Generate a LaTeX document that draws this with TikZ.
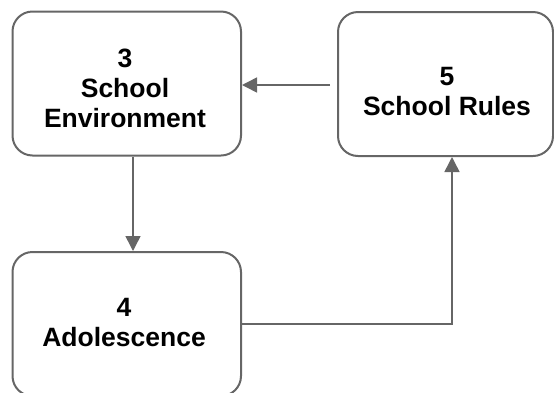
\documentclass[tikz,border=0pt]{standalone}
\usepackage{fontspec}
\setmainfont{Liberation Sans}
\usetikzlibrary{arrows.meta}
\definecolor{edge}{HTML}{666666}
\tikzset{
  box/.style={draw=edge, line width=2pt, rounded corners=20pt, fill=white, inner sep=0pt},
  lbl/.style={align=center, font=\fontsize{26.5}{30}\selectfont\bfseries, inner sep=0pt},
  conn/.style={draw=edge, line width=1.5pt, -{Triangle[length=15pt,width=15pt]}}
}
\begin{document}
\begin{tikzpicture}[x=1pt,y=-1pt]
\useasboundingbox (0,0) rectangle (554,392);
\node[box, minimum width=228.5pt, minimum height=144pt] (s3) at (126.75,83.5) {};
\node[box, minimum width=215pt, minimum height=144pt] (s5) at (445.5,84) {};
\node[box, minimum width=228.5pt, minimum height=144pt] (s4) at (126.75,324) {};
\node[lbl] (t3) at (125,88) {3\\School\\Environment};
\node[lbl] (t5) at (447,91.5) {5\\School Rules};
\node[lbl] (t4) at (124,323) {4\\Adolescence};
\draw[conn, shorten <=7pt] (s5.west |- 0,85) -- (s3.east |- 0,85);
\draw[conn] (s3.south -| 133,0) -- (s4.north -| 133,0);
\draw[conn] (s4.east |- 0,324) -- (452,324) -- (s5.south -| 452,0);
\end{tikzpicture}
\end{document}
